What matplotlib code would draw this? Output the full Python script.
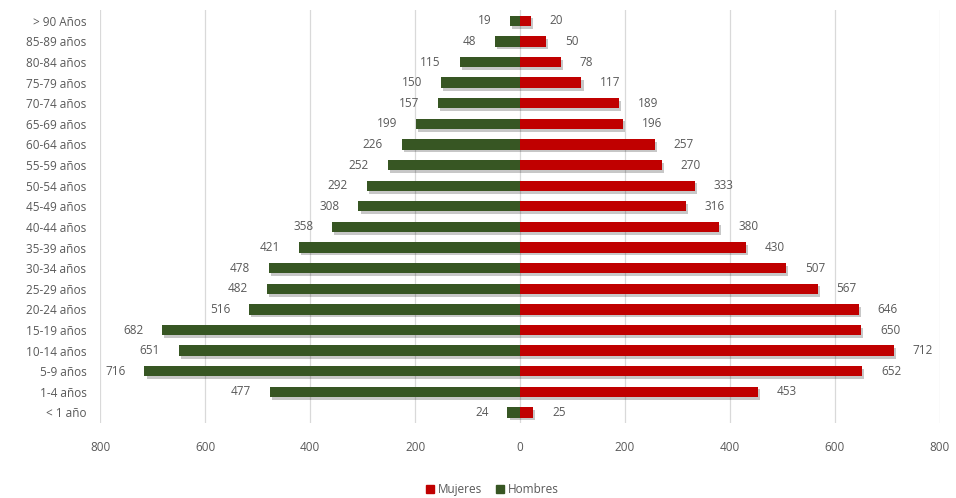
"""
Pirámide de población por grupos de edad (Hombres / Mujeres).
"""

import matplotlib.pyplot as plt
import matplotlib.patheffects as pe
from matplotlib.patches import Patch
import numpy as np

groups = ["< 1 año", "1-4 años", "5-9 años", "10-14 años", "15-19 años",
          "20-24 años", "25-29 años", "30-34 años", "35-39 años", "40-44 años",
          "45-49 años", "50-54 años", "55-59 años", "60-64 años", "65-69 años",
          "70-74 años", "75-79 años", "80-84 años", "85-89 años", "> 90 Años"]
hombres = [24, 477, 716, 651, 682, 516, 482, 478, 421, 358,
           308, 292, 252, 226, 199, 157, 150, 115, 48, 19]
mujeres = [25, 453, 652, 712, 650, 646, 567, 507, 430, 380,
           316, 333, 270, 257, 196, 189, 117, 78, 50, 20]
xticks = [-800, -600, -400, -200, 0, 200, 400, 600, 800]

GREEN = "#375623"
RED = "#C00000"
GREY = "#595959"


def generate_pyramid():
    plt.rcParams["font.family"] = ["Open Sans", "DejaVu Sans"]
    fig = plt.figure(figsize=(9.56, 4.98), dpi=100)
    ax = fig.add_axes([0.105, 0.151, 0.878, 0.828])

    y = np.arange(len(groups))
    shadow = [pe.SimplePatchShadow(offset=(1.5, -2), alpha=0.22,
                                   shadow_rgbFace="#000000"),
              pe.Normal()]
    bh = ax.barh(y, [-v for v in hombres], height=0.5, color=GREEN, zorder=3)
    bm = ax.barh(y, mujeres, height=0.5, color=RED, zorder=3)
    for b in list(bh) + list(bm):
        b.set_path_effects(shadow)

    for yi, v in zip(y, hombres):
        ax.text(-v - 36, yi, str(v), ha="right", va="center", fontsize=8.5,
                color=GREY)
    for yi, v in zip(y, mujeres):
        ax.text(v + 36, yi, str(v), ha="left", va="center", fontsize=8.5,
                color=GREY)

    ax.set_xlim(-800, 800)
    ax.set_ylim(-0.5, len(groups) - 0.5)
    ax.set_xticks(xticks)
    ax.set_xticklabels([str(abs(t)) for t in xticks])
    ax.set_yticks(y)
    ax.set_yticklabels(groups)
    ax.tick_params(axis="both", length=0, labelsize=8.5, labelcolor=GREY)
    ax.tick_params(axis="x", pad=13)
    ax.tick_params(axis="y", pad=10)
    ax.grid(axis="x", color="#D9D9D9", linewidth=0.9, zorder=0)
    for s in ax.spines.values():
        s.set_visible(False)

    handles = [Patch(color=RED), Patch(color=GREEN)]
    fig.legend(handles, ["Mujeres", "Hombres"], loc="lower center",
               bbox_to_anchor=(0.515, -0.018), ncol=2, frameon=False,
               fontsize=8.5, handlelength=0.7, handleheight=0.7,
               handletextpad=0.3, columnspacing=1.2, labelcolor=GREY)

    fig.savefig("out.png", dpi=100)


if __name__ == "__main__":
    generate_pyramid()
